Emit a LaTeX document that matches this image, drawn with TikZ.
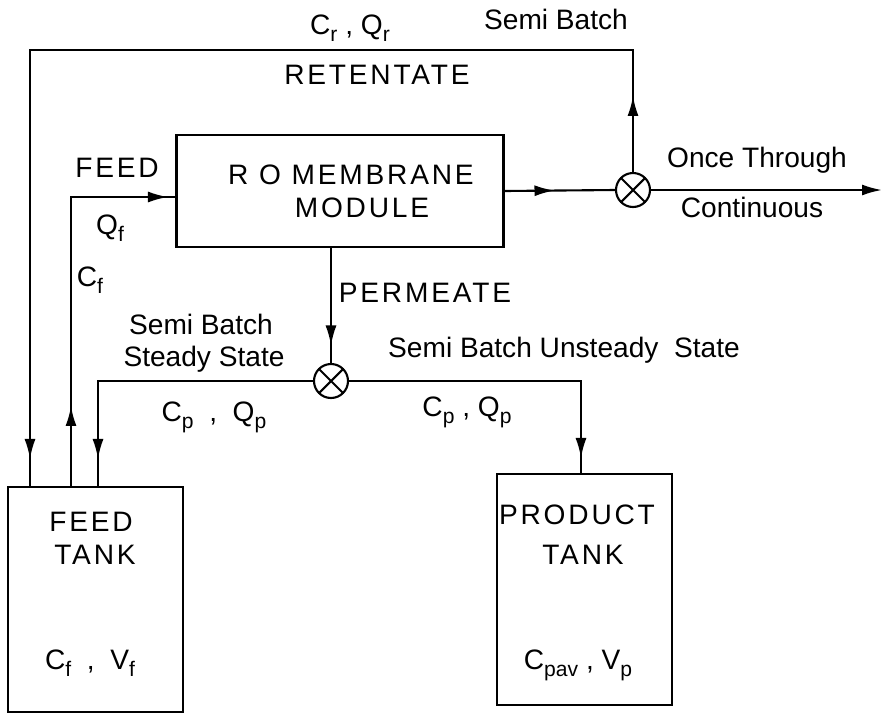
\documentclass[tikz,border=0pt]{standalone}
\usepackage{fontspec}
\setmainfont{Liberation Sans}
\newfontfamily\capsfont[LetterSpace=10]{Liberation Sans}
\usetikzlibrary{arrows.meta,positioning,decorations.markings}
\newcommand{\vsub}[2]{#1\raisebox{-0.45ex}{\fontsize{12}{12}\selectfont #2}}

\begin{document}
\begin{tikzpicture}[x=0.02cm,y=-0.02cm,
  flow/.style={line width=1.2pt},
  box/.style={draw,line width=1.2pt,inner sep=0pt},
  mix/.style={draw,circle,line width=1.2pt,minimum size=0.68cm,inner sep=0pt,
    path picture={\draw[line width=1.2pt] (path picture bounding box.north west) -- (path picture bounding box.south east)
      (path picture bounding box.north east) -- (path picture bounding box.south west);}},
  tipat/.style={postaction={decorate,decoration={markings,mark=at position #1 with {\arrow{Latex[length=4mm,width=2.2mm]}}}}},
  lbl/.style={font=\fontsize{16}{19}\selectfont,inner sep=0pt,anchor=mid},
  caps/.style={font=\fontsize{16}{19}\selectfont\capsfont,inner sep=0pt,anchor=mid}]
\useasboundingbox (0,0) rectangle (883,714);

\node[box,minimum width=6.54cm,minimum height=2.24cm] (module) at (340,191) {};
\node[box,minimum width=3.5cm,minimum height=4.5cm] (ftank) at (95.5,599.5) {};
\node[box,minimum width=3.5cm,minimum height=4.62cm] (ptank) at (584.5,589.5) {};
\node[mix] (jr) at (633,190) {};
\node[mix] (jp) at (331,381) {};
\coordinate (rettop) at (30,50);
\coordinate (outlet) at (882,190);

\draw[flow,tipat=1.52cm,tipat=-0.54cm] (jr.north) |- (rettop) -- (rettop |- ftank.north);
\draw[flow,tipat=1.6cm,tipat=-0.15cm] ([xshift=-0.49cm]ftank.north) |- ([yshift=-0.12cm]module.west);
\draw[flow,tipat=1cm] (module.east) -- (jr.west);
\draw[flow,-{Latex[length=4mm,width=2.2mm]}] (jr.east) -- (outlet);
\draw[flow,tipat=-0.35cm] (module.south -| jp) -- (jp.north);
\draw[flow,tipat=-0.54cm] (jp.west) -| ([xshift=0.05cm]ftank.north);
\draw[flow,tipat=-0.3cm] (jp.east) -| ([xshift=-0.07cm]ptank.north);

\node[lbl] (crqr) at (350,30) {\vsub{C}{r} , \vsub{Q}{r}};
\node[lbl] (sbtop) at (556,25) {Semi Batch};
\node[caps] (ret) at (377,80) {RETENTATE};
\node[caps] (feed) at (117,173) {FEED};
\node[lbl] (qf) at (110,230) {\vsub{Q}{f}};
\node[lbl] (cf) at (90,282) {\vsub{C}{f}};
\node[caps] (mod1) at (351,180) {R O MEMBRANE};
\node[caps] (mod2) at (362,213) {MODULE};
\node[lbl] (once) at (757,163) {Once Through};
\node[lbl] (cont) at (752,213) {Continuous};
\node[caps] (perm) at (425,298) {PERMEATE};
\node[lbl] (steady1) at (201,330) {Semi Batch};
\node[lbl] (steady2) at (204,362) {Steady State};
\node[lbl] (unsteady) at (564,353) {Semi Batch Unsteady\ \ State};
\node[lbl] (cpqpl) at (214,417) {\vsub{C}{p} \ , \ \vsub{Q}{p}};
\node[lbl] (cpqpr) at (467,412) {\vsub{C}{p} , \vsub{Q}{p}};
\node[caps] (ft1) at (91,527) {FEED};
\node[caps] (ft2) at (95,560) {TANK};
\node[lbl] (cfvf) at (90,665) {\vsub{C}{f} \ , \ \vsub{V}{f}};
\node[caps] (pt1) at (577,520) {PRODUCT};
\node[caps] (pt2) at (583,560) {TANK};
\node[lbl] (cpv) at (578,665) {\vsub{C}{pav} , \vsub{V}{p}};
\end{tikzpicture}
\end{document}
